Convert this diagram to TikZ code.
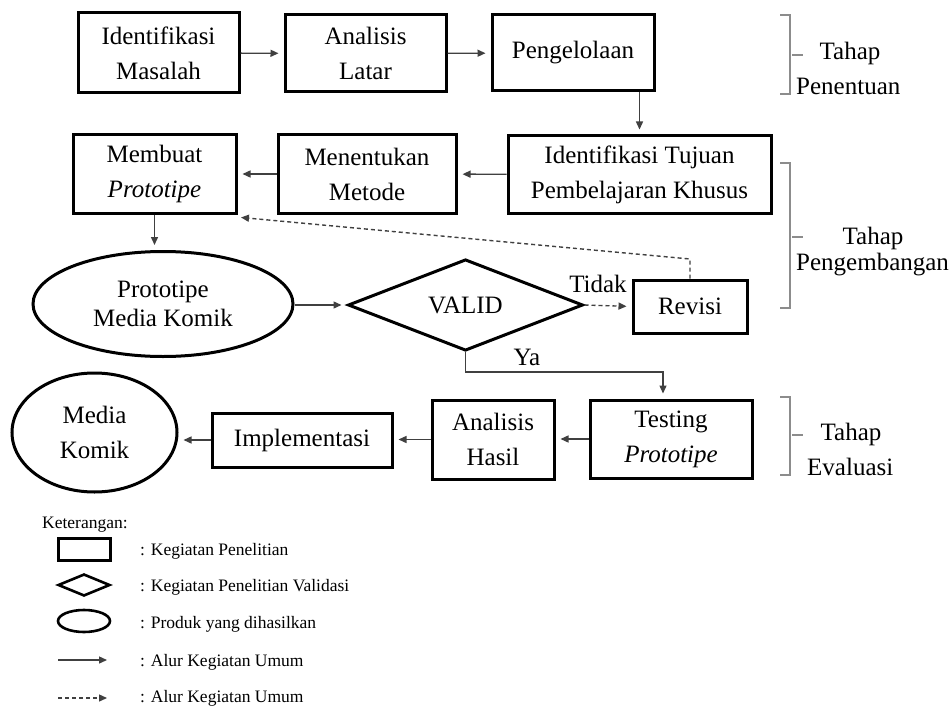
\documentclass[tikz,border=0pt]{standalone}
\usepackage{fontspec}
\setmainfont{Liberation Serif}
\usetikzlibrary{arrows.meta,shapes.geometric}
\newcommand\mainfs{\fontsize{25}{35}\selectfont}
\newcommand\legfs{\fontsize{17.5}{19}\selectfont}
\begin{document}
\begin{tikzpicture}[x=1pt,y=-1pt,
  box/.style={draw,line width=3pt,rectangle,inner sep=0pt,align=center,font=\mainfs},
  oval/.style={draw,line width=3pt,ellipse,inner sep=0pt,align=center,font=\mainfs},
  conn/.style={line width=1.4pt,draw=black!75,-{Triangle[length=8pt,width=7pt]},shorten >=5pt},
  dconn/.style={conn,dash pattern=on 4pt off 3pt},
  brk/.style={line width=1.8pt,draw=black!45},
  lbl/.style={font=\mainfs,inner sep=0pt},
  leg/.style={font=\legfs,inner sep=0pt,anchor=west},
]
\fill[white] (0,0) rectangle (950,706);
\useasboundingbox (0,0) rectangle (950,706);

% row 1
\node[box,minimum width=161pt,minimum height=80pt] (im) at (158.5,53) {Identifikasi\\Masalah};
\node[box,minimum width=161pt,minimum height=77pt] (al) at (365.5,53.5) {Analisis\\Latar};
\node[box,minimum width=162pt,minimum height=76pt] (pg) at (573,53) {\raisebox{5pt}{Pengelolaan}};
% row 2
\node[box,minimum width=263pt,minimum height=77pt] (it) at (639.5,174.5) {Identifikasi Tujuan\\Pembelajaran Khusus};
\node[box,minimum width=178pt,minimum height=78pt] (mm) at (367,174) {Menentukan\\Metode};
\node[box,minimum width=163pt,minimum height=78pt] (mp) at (154.5,174) {Membuat\\\textit{Prototipe}};
% row 3
\node[oval,minimum width=260pt,minimum height=105pt] (pmk) at (163,304) {Prototipe\\[-6pt]Media Komik};
\node[draw,line width=3pt,diamond,inner sep=0pt,minimum width=235pt,minimum height=86pt,font=\mainfs] (valid) at (465.5,305) {VALID};
\node[box,minimum width=114pt,minimum height=53pt] (rev) at (690,306.5) {Revisi};
% row 4
\node[box,minimum width=162pt,minimum height=78pt] (tp) at (671,439) {Testing\\\textit{Prototipe}};
\node[box,minimum width=122pt,minimum height=79pt] (ah) at (493,439.5) {Analisis\\Hasil};
\node[box,minimum width=180pt,minimum height=54pt] (imp) at (302,440) {Implementasi};
\node[oval,minimum width=165pt,minimum height=119pt] (mk) at (94.5,432.5) {Media\\Komik};

% connectors
\draw[conn] (im) -- (al);
\draw[conn] (al) -- (pg);
\draw[conn] (it.north |- pg.south) -- (it.north);
\draw[conn] (it) -- (mm);
\draw[conn] (mm) -- (mp);
\draw[conn] (mp) -- (mp |- pmk.north);
\draw[conn] (valid.west -| pmk.east) -- (valid.west);
\draw[dconn] (valid.east) -- (rev.west);
\node[lbl] (tidak) at (598,284) {Tidak};
\coordinate (fb) at (690,259);
\coordinate (fbend) at (236,217);
\draw[dconn] (rev.north) -- (fb) -- (fbend);
\coordinate (yaturn) at (663,372);
\draw[conn] (valid.south) |- (yaturn) -- (yaturn |- tp.north);
\node[lbl] (ya) at (527,357) {Ya};
\draw[conn] (tp.west) -- (ah.east |- tp.west);
\draw[conn] (ah.west) -- (imp.east |- ah.west);
\draw[conn] (imp.west) -- (imp.west -| mk.east);

% brackets
\draw[brk] (780,15) -- (790,15) -- (790,94) -- (780,94);
\draw[brk] (792,55) -- (803,55);
\node[lbl] (t1) at (850,53) {Tahap};
\node[lbl,anchor=west] (p1) at (796,86) {Penentuan};
\draw[brk] (780,163) -- (790,163) -- (790,308) -- (780,308);
\draw[brk] (792,237) -- (803,237);
\node[lbl] (t2) at (873,238) {Tahap};
\node[lbl,anchor=west] (p2) at (796,265) {Pengembangan};
\draw[brk] (780,397) -- (790,397) -- (790,475) -- (780,475);
\draw[brk] (792,435) -- (803,435);
\node[lbl] (t3) at (851,434) {Tahap};
\node[lbl,anchor=west] (p3) at (807,467) {Evaluasi};

% legend
\node[leg] (ket) at (42,525) {Keterangan:};
\node[draw,line width=3pt,rectangle,minimum width=52pt,minimum height=22pt,inner sep=0pt] (lrect) at (84,549) {};
\node[draw,line width=2.6pt,diamond,minimum width=52pt,minimum height=22pt,inner sep=0pt] (ldiam) at (84,585) {};
\node[draw,line width=2.6pt,ellipse,minimum width=52pt,minimum height=22pt,inner sep=0pt] (lell) at (84,621) {};
\coordinate (la1) at (58,660);
\coordinate (la2) at (112,660);
\draw[conn] (la1) -- (la2);
\coordinate (lb1) at (58,698);
\coordinate (lb2) at (112,698);
\draw[dconn] (lb1) -- (lb2);
\node[leg] (lt1) at (140,551) {: Kegiatan Penelitian};
\node[leg] (lt2) at (140,587) {: Kegiatan Penelitian Validasi};
\node[leg] (lt3) at (140,624) {: Produk yang dihasilkan};
\node[leg] (lt4) at (140,662) {: Alur Kegiatan Umum};
\node[leg] (lt5) at (140,698) {: Alur Kegiatan Umum};
\end{tikzpicture}
\end{document}
